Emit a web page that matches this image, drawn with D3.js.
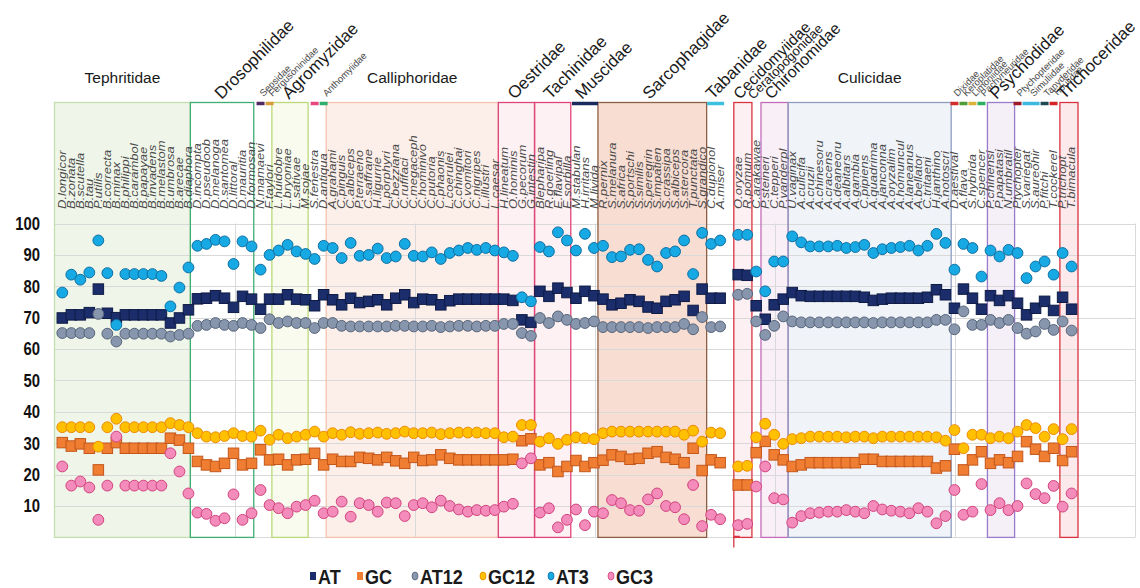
<!DOCTYPE html>
<html>
<head>
<meta charset="utf-8">
<script src="https://cdn.jsdelivr.net/npm/d3@7"></script>
<style>
  body { margin: 0; background: #fff; }
  svg { display: block; font-family: "Liberation Sans", Arial, sans-serif; }
</style>
</head>
<body>
<svg id="chart" width="1140" height="588"></svg>
<script>
// ---- species (one slot is left empty between Tabanidae and Cecidomyiidae) ----
const species = [
  "D.longicor","B.zonata","B.scutella","B.tau","P.utilis","B.correcta","B.minax","B.philippi","B.carambol","B.papayae","B.invadens","B.melastom","B.umbrosa","B.arecae","B.diaphora",
  "D.incompta","D.pseudoob","D.melanoga","D.santomea","D.littoral","D.mauritia","D.formosan",
  "N.mamaevi","F.taylori","L.huidobre","L.bryoniae","L.sativae","M.sojae","S.fenestra","D.antiqua",
  "A.grahami","C.pinguis","C.albiceps","P.terraeno","C.saffrane","H.ligurrie","L.porphyri","C.bezziana","C.rufifaci","C.megaceph","C.hominivo","C.putoria","C.phaonis","L.coerulei","C.chinghai","C.vomitori","C.nigripes","L.illustri","L.caesar",
  "H.lineatum","O.hominis","G.pecorum","G.intestin",
  "Blepharipa","R.goerling","E.flavipal","E.sorbilla",
  "M.stabulan","H.irritans","M.livida",
  "R.pernix","S.melanura","S.africa","S.portschi","S.similis","S.peregrin","S.impatien","S.crassipa","S.albiceps","S.stercora","T.punctata","S.grandico",
  "C.dupionol","A.miser","",
  "O.oryzae","R.pomum","C.arakawae","P.steineri","C.tepperi","P.vanderpl",
  "U.vaginax","A.culicifa","A.cruzii","A.chinesoru","A.cracens","A.deaneoru","A.albitars","A.gambia","C.pipiens","A.quadrima","A.janconna","A.oryzalim","A.homuncul","A.laneanus","A.bellator","C.tritaeni","H.janthino","A.notoscri",
  "D.aestival","A.flava","S.hybrida","C.spencer","P.chinensi","P.papatasi","N.umbratil","Ptychopter","S.variegat","S.aureohir","P.fitchi","T.cockerel","P.trichopt","T.bimacula"
];

// ---- base composition (%) per species ----
const AT = [
  69.9,70.9,70.9,71.6,79.1,71.4,70.0,70.9,70.9,70.9,70.9,70.9,68.3,69.9,72.5,
  76.0,76.2,77.0,76.2,73.3,76.8,75.9,
  72.7,75.9,75.9,77.3,75.9,75.7,73.8,77.3,
  75.7,74.1,76.2,74.8,75.2,75.7,74.1,76.2,77.3,74.8,75.9,75.7,74.1,75.4,75.9,75.9,75.9,75.9,75.9,
  75.9,75.5,69.3,68.5,
  78.4,76.8,79.4,78.0,
  76.2,78.4,77.0,
  75.9,74.1,74.6,75.7,75.2,73.4,73.0,75.2,75.7,76.8,72.3,79.1,
  76.2,76.2,null,
  83.7,83.5,73.8,69.5,74.1,75.9,
  78.0,77.0,76.8,76.8,76.8,76.8,76.8,76.8,76.5,75.5,75.9,76.2,76.2,76.2,76.2,76.5,78.9,77.3,
  73.0,79.1,76.2,72.7,77.0,75.5,77.0,74.6,70.9,73.0,75.2,72.3,76.5,72.7
];
const GC = [
  30.2,29.1,29.8,28.4,21.5,28.4,30.2,28.4,28.4,28.4,28.4,28.4,31.6,31.0,28.4,
  24.2,23.1,22.6,23.6,26.8,23.1,23.6,
  27.9,24.7,24.9,23.1,24.7,24.9,26.8,23.1,
  24.9,24.2,24.2,25.5,25.2,24.7,25.5,24.4,23.6,25.5,24.5,24.7,26.3,25.2,24.7,24.7,24.7,24.7,24.7,
  24.7,24.9,30.8,31.4,
  23.1,23.8,21.0,22.6,
  24.5,22.6,23.8,
  24.6,26.3,25.8,24.9,25.2,26.8,27.3,25.5,24.9,23.8,28.4,21.3,
  24.7,23.8,null,
  16.7,16.7,27.0,30.6,26.3,24.7,
  22.6,23.1,23.8,23.8,23.8,23.8,23.8,23.8,24.9,24.9,24.2,24.2,24.2,24.2,24.2,24.2,22.1,22.8,
  28.1,21.5,24.7,27.3,23.6,24.7,23.8,25.8,30.5,28.1,25.8,28.4,24.5,27.3
];
const AT12 = [
  65.1,65.1,65.1,65.1,71.2,64.9,62.4,64.9,64.9,64.9,64.9,64.9,64.0,64.5,64.9,
  67.4,67.7,68.3,67.7,67.4,68.3,67.7,
  66.7,69.5,68.3,68.8,68.3,68.3,66.7,68.3,
  68.3,67.4,67.2,67.2,67.2,67.2,67.2,67.4,67.4,67.2,67.2,67.4,67.0,67.2,67.4,67.4,67.2,67.4,67.4,
  68.0,68.0,65.1,64.2,
  69.9,68.3,70.4,69.3,
  68.0,68.3,68.8,
  67.0,67.0,67.0,67.0,67.0,66.7,67.0,67.0,67.0,68.0,66.3,70.2,
  67.0,67.2,null,
  77.3,77.6,68.8,64.5,67.4,70.4,
  68.8,68.5,68.5,68.5,68.5,68.5,68.5,68.5,68.5,68.3,68.5,68.5,68.5,68.5,68.5,68.5,69.3,69.3,
  66.3,72.0,67.7,67.7,69.3,68.3,69.3,66.7,64.9,65.6,68.0,66.1,68.8,65.9
];
const GC12 = [
  35.1,35.1,35.1,35.1,28.9,35.1,37.8,35.1,35.1,35.1,35.1,35.1,36.4,35.8,35.1,
  33.2,32.1,31.9,32.3,33.2,32.3,32.1,
  34.0,31.1,32.7,31.6,32.1,32.7,33.7,32.1,
  33.2,32.7,33.5,33.0,33.2,33.4,33.0,33.2,33.7,33.2,33.2,33.4,32.9,33.2,33.4,33.4,33.4,33.2,33.2,
  31.9,32.1,35.8,35.8,
  30.5,31.6,29.8,31.1,
  31.9,31.6,31.3,
  33.2,33.7,33.7,33.7,33.7,33.7,33.7,33.7,33.7,32.7,34.0,30.5,
  33.4,33.2,null,
  22.6,22.8,31.9,36.2,32.7,29.8,
  31.3,31.6,32.1,32.1,32.1,32.1,31.9,32.1,32.1,31.6,32.1,32.1,32.1,32.1,32.1,32.1,31.9,30.8,
  34.2,28.4,32.7,32.7,31.6,32.1,31.6,33.7,35.8,34.8,32.1,34.5,31.3,34.5
];
const AT3 = [
  78.0,83.7,82.1,84.4,94.6,84.2,67.7,83.9,83.9,83.9,83.9,83.3,73.6,79.6,86.0,
  92.9,93.5,94.8,94.3,87.1,94.3,92.7,
  85.3,90.0,91.4,93.2,91.1,90.3,88.7,92.9,
  92.2,89.0,93.8,89.7,90.0,92.0,89.0,89.5,93.5,89.7,89.5,90.8,88.7,90.6,91.4,92.2,91.6,92.2,91.4,
  90.8,89.7,76.5,75.2,
  92.5,91.1,97.2,94.6,
  91.4,96.7,92.2,
  92.9,89.3,89.5,91.6,91.8,88.4,86.3,90.6,91.1,94.6,83.9,97.0,
  93.5,94.6,null,
  96.4,96.4,84.7,78.4,87.9,87.9,
  95.9,94.0,92.7,92.7,92.7,92.9,92.2,92.5,93.2,90.6,91.8,92.2,92.5,92.9,91.4,92.9,96.7,93.8,
  85.3,93.5,92.2,83.1,91.4,89.5,91.6,90.6,82.6,86.3,87.9,83.7,90.6,86.3
];
const GC3 = [
  22.6,16.5,17.8,15.9,5.6,16.5,32.1,16.5,16.5,16.5,16.5,16.5,26.8,21.0,14.0,
  7.9,7.5,5.3,6.1,13.7,5.6,7.7,
  15.1,10.3,9.3,7.7,9.8,10.3,11.7,7.7,
  8.2,11.4,6.6,10.9,10.3,8.2,11.1,10.9,6.8,10.3,10.9,9.6,11.7,10.0,8.9,8.2,8.7,8.5,8.7,
  9.8,10.7,23.6,25.2,
  7.9,9.3,3.2,5.6,
  8.9,3.9,8.2,
  7.7,11.9,10.9,8.7,8.5,12.1,14.0,10.0,9.6,5.8,16.7,3.6,
  7.2,5.8,null,
  3.9,4.3,16.2,22.6,12.5,12.1,
  4.7,6.8,7.7,7.9,8.2,8.2,8.7,8.2,7.7,10.0,8.9,8.5,8.2,7.7,9.3,8.2,4.5,6.8,
  15.1,7.2,8.2,17.0,8.7,10.9,8.7,10.0,17.2,13.8,12.5,16.4,9.8,14.0
];

const yTicks = [10, 20, 30, 40, 50, 60, 70, 80, 90, 100];

// ---- families: name and first/last species index ----
const familyNames = ["Tephritidae","Drosophilidae","Sepsidae","Fergusoninidae","Agromyzidae","","Anthomyiidae","Calliphoridae","Oestridae","Tachinidae","Muscidae","Sarcophagidae","Tabanidae","Cecidomyiidae","Ceratopogonidae","Chironomidae","Culicidae","Dixidae","Keroplatidae","Limoniidae","Pachyneuridae","Psychodidae","Ptychopteridae","Simuliidae","Tanyderidae","Tipulidae","Trichoceridae"];
const familyFirst = [0,15,22,23,24,28,29,30,49,53,57,60,72,75,77,78,81,99,100,101,102,103,106,107,109,110,111];
const familyLast  = [14,21,22,23,27,28,29,48,52,56,59,71,73,76,77,80,98,99,100,101,102,105,106,108,109,110,112];

// ---- styling ----
const familyStyle = {
  "Tephritidae":    {kind:"box", fill:"#eff6e9", stroke:"#c3dfb0", label:"flat", size:15.5},
  "Drosophilidae":  {kind:"box", fill:"#ffffff", stroke:"#3fae72", label:"tilt", size:17},
  "Sepsidae":       {kind:"bar", stroke:"#512a63", label:"tilt", size:9.5, small:true},
  "Fergusoninidae": {kind:"bar", stroke:"#d99c3c", label:"tilt", size:9.5, small:true},
  "Agromyzidae":    {kind:"box", fill:"#f8fbee", stroke:"#bcd97a", label:"tilt", size:17},
  "":               {kind:"bar", stroke:"#e8467c", label:"none"},
  "Anthomyiidae":   {kind:"bar", stroke:"#2fae6c", label:"tilt", size:9.5, small:true},
  "Calliphoridae":  {kind:"box", fill:"#fcefe9", stroke:"#f3c3ae", label:"flat", size:15.5},
  "Oestridae":      {kind:"box", fill:"#fdf1f3", stroke:"#e0457a", label:"tilt", size:17},
  "Tachinidae":     {kind:"box", fill:"#fdf1f3", stroke:"#e0457a", label:"tilt", size:17},
  "Muscidae":       {kind:"bar", stroke:"#1b2a5c", label:"tilt", size:17},
  "Sarcophagidae":  {kind:"box", fill:"#f8ddd2", stroke:"#8c5f44", label:"tilt", size:17},
  "Tabanidae":      {kind:"bar", stroke:"#3cc0df", label:"tilt", size:17},
  "Cecidomyiidae":  {kind:"box", fill:"#fdf0f2", stroke:"#d9333f", label:"tilt", size:15.5, tick:true},
  "Ceratopogonidae":{kind:"none", label:"tilt", size:13},
  "Chironomidae":   {kind:"box", fill:"#f9eff7", stroke:"#c46cba", label:"tilt", size:16},
  "Culicidae":      {kind:"box", fill:"#f0f4f9", stroke:"#8e9cc0", label:"flat", size:15.5},
  "Dixidae":        {kind:"bar", stroke:"#d42b2b", label:"tilt", size:9.5, small:true},
  "Keroplatidae":   {kind:"bar", stroke:"#4e9c3a", label:"tilt", size:9.5, small:true},
  "Limoniidae":     {kind:"bar", stroke:"#d9b33a", label:"tilt", size:9.5, small:true},
  "Pachyneuridae":  {kind:"bar", stroke:"#2db062", label:"tilt", size:9.5, small:true},
  "Psychodidae":    {kind:"box", fill:"#f5eff8", stroke:"#9a7ccb", label:"tilt", size:17},
  "Ptychopteridae": {kind:"bar", stroke:"#9c1b2b", label:"tilt", size:9.5, small:true},
  "Simuliidae":     {kind:"bar", stroke:"#3fb8e0", label:"tilt", size:9.5, small:true},
  "Tanyderidae":    {kind:"bar", stroke:"#1d4a52", label:"tilt", size:9.5, small:true},
  "Tipulidae":      {kind:"bar", stroke:"#d42424", label:"tilt", size:9.5, small:true},
  "Trichoceridae":  {kind:"box", fill:"#fce9eb", stroke:"#d9333f", label:"tilt", size:17}
};

const seriesNames = ["AT", "GC", "AT12", "GC12", "AT3", "GC3"];
const seriesValues = [AT, GC, AT12, GC12, AT3, GC3];
const seriesStyle = {
  "AT":   {shape:"square", fill:"#1b2d6b", stroke:"#0e1b45"},
  "GC":   {shape:"square", fill:"#ef7d32", stroke:"#c4561a"},
  "AT12": {shape:"circle", fill:"#8796ad", stroke:"#56647a"},
  "GC12": {shape:"circle", fill:"#ffc000", stroke:"#ee8a00"},
  "AT3":  {shape:"circle", fill:"#17a9e3", stroke:"#0d6fa2"},
  "GC3":  {shape:"circle", fill:"#f38cbb", stroke:"#d2427d"}
};

// ---- scales ----
const svg = d3.select("#chart");
const n = species.length;
const idx = d3.range(n);
const x = d3.scalePoint().domain(idx).range([62.3, 1071.6]);
const band = d3.scaleBand().domain(idx).range([54.5, 1078]);
const slot = d3.scaleLinear().domain([0, 120]).range([55, 1135]);
const y = d3.scaleLinear().domain([0, 100]).range([537.4, 223.5]);
const boxTop = 102.5;

const families = familyNames.map((name, k) => ({
  name, first: familyFirst[k], last: familyLast[k], style: familyStyle[name]
}));
const famX0 = f => band(f.first);
const famX1 = f => band(f.last) + band.bandwidth();

// family background fills
svg.append("g").selectAll("rect")
  .data(families.filter(f => f.style.kind === "box"))
  .join("rect")
  .attr("x", famX0).attr("y", boxTop)
  .attr("width", f => famX1(f) - famX0(f))
  .attr("height", y(0) - boxTop)
  .attr("fill", f => f.style.fill);

// grid
const grid = svg.append("g").attr("stroke", "#d9d9d9").attr("stroke-width", 1);
grid.selectAll("line.h").data([0].concat(yTicks)).join("line").attr("class", "h")
  .attr("x1", slot(0)).attr("x2", slot(120))
  .attr("y1", d => Math.round(y(d)) + 0.5).attr("y2", d => Math.round(y(d)) + 0.5);
grid.selectAll("line.v").data(d3.range(20, 121, 20)).join("line").attr("class", "v")
  .attr("x1", d => Math.round(slot(d)) + 0.5).attr("x2", d => Math.round(slot(d)) + 0.5)
  .attr("y1", y(100)).attr("y2", y(0));

// family outlines
svg.append("g").selectAll("rect")
  .data(families.filter(f => f.style.kind === "box"))
  .join("rect")
  .attr("x", famX0).attr("y", boxTop)
  .attr("width", f => famX1(f) - famX0(f))
  .attr("height", y(0) - boxTop)
  .attr("fill", "none")
  .attr("stroke", f => f.style.stroke)
  .attr("stroke-width", 1.3);

// small tail under the Cecidomyiidae frame
svg.append("g").selectAll("path")
  .data(families.filter(f => f.style.tick))
  .join("path")
  .attr("d", f => `M${famX0(f)},${y(0)} V${y(0) + 10} M${famX0(f)},${y(0) - 1} h6`)
  .attr("stroke", f => f.style.stroke).attr("stroke-width", 1.3).attr("fill", "none");

// colour bars for families without a frame
svg.append("g").selectAll("line")
  .data(families.filter(f => f.style.kind === "bar"))
  .join("line")
  .attr("x1", f => x(f.first) - 4).attr("x2", f => x(f.last) + 4)
  .attr("y1", boxTop + 1).attr("y2", boxTop + 1)
  .attr("stroke", f => f.style.stroke).attr("stroke-width", 3.5);

// y axis labels
svg.append("g").selectAll("text").data(yTicks).join("text")
  .attr("transform", d => `translate(40,${y(d)}) scale(0.85,1)`)
  .attr("text-anchor", "end").attr("dy", "0.36em")
  .attr("font-size", 17.5).attr("font-weight", "bold").attr("fill", "#111")
  .text(d => d);

// species labels
svg.append("g").selectAll("text")
  .data(idx.filter(i => species[i] !== ""))
  .join("text")
  .attr("transform", i => `translate(${x(i)},209) rotate(-90) scale(1,0.8)`)
  .attr("dy", "0.35em")
  .attr("font-size", 13).attr("font-style", "italic").attr("fill", "#4a4a4a")
  .text(i => species[i]);

// family labels
const famCenter = f => (x(f.first) + x(f.last)) / 2;
svg.append("g").selectAll("text")
  .data(families.filter(f => f.style.label === "flat"))
  .join("text")
  .attr("x", f => (famX0(f) + famX1(f)) / 2).attr("y", 83)
  .attr("text-anchor", "middle").attr("font-size", f => f.style.size).attr("fill", "#1a1a1a")
  .text(f => f.name);
svg.append("g").selectAll("text")
  .data(families.filter(f => f.style.label === "tilt"))
  .join("text")
  .attr("transform", f => `translate(${famCenter(f) + (f.style.small ? 3 : -3)},${f.style.small ? 97 : 100}) rotate(-45)`)
  .attr("font-size", f => f.style.size)
  .attr("fill", f => f.style.small ? "#4a4a4a" : "#1a1a1a")
  .text(f => f.name);

// data points
const SQ = 10.5, R = 5.4;
seriesNames.forEach((s, k) => {
  const st = seriesStyle[s];
  const pts = idx.filter(i => seriesValues[k][i] != null);
  const g = svg.append("g").attr("fill", st.fill).attr("stroke", st.stroke).attr("stroke-width", 1);
  if (st.shape === "square") {
    g.selectAll("rect").data(pts).join("rect")
      .attr("x", i => x(i) - SQ / 2).attr("y", i => y(seriesValues[k][i]) - SQ / 2)
      .attr("width", SQ).attr("height", SQ);
  } else {
    g.selectAll("circle").data(pts).join("circle")
      .attr("cx", i => x(i)).attr("cy", i => y(seriesValues[k][i])).attr("r", R);
  }
});

// legend
const legendX = [310, 357, 412, 480, 548, 608];
const leg = svg.append("g").selectAll("g").data(seriesNames).join("g")
  .attr("transform", (s, k) => `translate(${legendX[k]},576)`);
leg.each(function (s) {
  const st = seriesStyle[s];
  const g = d3.select(this);
  if (st.shape === "square") {
    g.append("rect").attr("x", 0).attr("y", -4).attr("width", 6).attr("height", 8).attr("fill", st.fill);
  } else {
    g.append("ellipse").attr("cx", 3).attr("cy", 0).attr("rx", 3).attr("ry", 4)
      .attr("fill", st.fill).attr("stroke", st.stroke).attr("stroke-width", 0.8);
  }
  g.append("text")
    .attr("transform", "translate(8,7.5) scale(0.88,1)")
    .attr("font-size", 20.5).attr("font-weight", "bold").attr("fill", "#1a1a1a")
    .text(s);
});
</script>
</body>
</html>
